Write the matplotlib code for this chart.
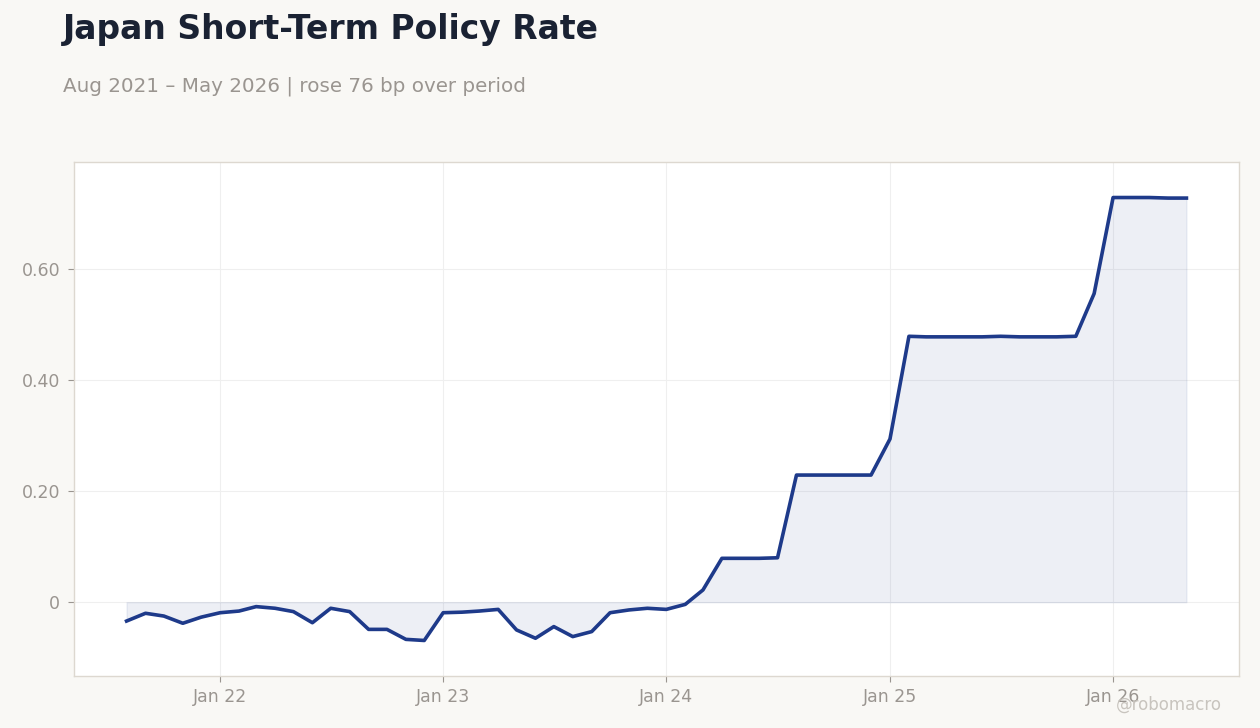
import numpy as np
import pandas as pd
import matplotlib
matplotlib.use("Agg")
import matplotlib.pyplot as plt
import matplotlib.dates as mdates

# monthly readings, Aug 2021 .. May 2026 (percent)
dates = pd.date_range("2021-08-01", "2026-05-01", freq="MS")
rate = [
    -0.034, -0.020, -0.025, -0.038, -0.027,                      # 2021
    -0.019, -0.016, -0.008, -0.011, -0.017, -0.037,
    -0.011, -0.017, -0.049, -0.049, -0.067, -0.069,              # 2022
    -0.019, -0.018, -0.016, -0.013, -0.050, -0.065,
    -0.044, -0.062, -0.053, -0.019, -0.014, -0.011,              # 2023
    -0.013, -0.004, 0.022, 0.079, 0.079, 0.079,
    0.080, 0.229, 0.229, 0.229, 0.229, 0.229,                    # 2024
    0.294, 0.479, 0.478, 0.478, 0.478, 0.478,
    0.479, 0.478, 0.478, 0.478, 0.479, 0.556,                    # 2025
    0.729, 0.729, 0.729, 0.728, 0.728,                           # 2026
]
ytick_vals = [0, 0.2, 0.4, 0.6]
ytick_labels = ["0", "0.20", "0.40", "0.60"]

bg = "#f9f8f5"
line_col = "#1e3a8a"
grey = "#9a9590"

fig = plt.figure(figsize=(12.6, 7.28), dpi=100, facecolor=bg)
ax = fig.add_axes([74 / 1260, 52 / 728, (1239 - 74) / 1260, (676 - 162) / 728])
ax.set_facecolor("white")

ax.fill_between(dates, rate, 0, color=line_col, alpha=0.08, linewidth=1,
                edgecolor=(0.12, 0.23, 0.54, 0.12))
ax.plot(dates, rate, color=line_col, linewidth=2.6, solid_joinstyle="round")

ax.set_xlim(pd.Timestamp("2021-05-07"), pd.Timestamp("2026-07-26"))
ax.set_ylim(-0.133, 0.793)
ax.set_yticks(ytick_vals)
ax.set_yticklabels(ytick_labels)
ax.xaxis.set_major_locator(mdates.YearLocator(month=1, day=1))
ax.xaxis.set_major_formatter(mdates.DateFormatter("%b %y"))

ax.grid(True, color="#efefef", linewidth=0.8)
ax.set_axisbelow(True)
for s in ax.spines.values():
    s.set_color("#ddd8d0")
    s.set_linewidth(1)
ax.tick_params(colors=grey, labelsize=12.5, length=4, width=0.8, pad=6)
ax.tick_params(axis="x", pad=5)

fig.text(63 / 1260, 1 - 30 / 728, "Japan Short-Term Policy Rate", fontsize=23.8,
         fontweight="bold", color="#1a2233", va="center")
fig.text(63 / 1260, 1 - 86 / 728, "Aug 2021 \u2013 May 2026 | rose 76 bp over period",
         fontsize=14.3, color=grey, va="center")
fig.text(1222 / 1260, 1 - 705 / 728, "@robomacro", fontsize=12, color="#c8c4be",
         ha="right", va="center")

fig.savefig("out.png", dpi=100, facecolor=bg)
